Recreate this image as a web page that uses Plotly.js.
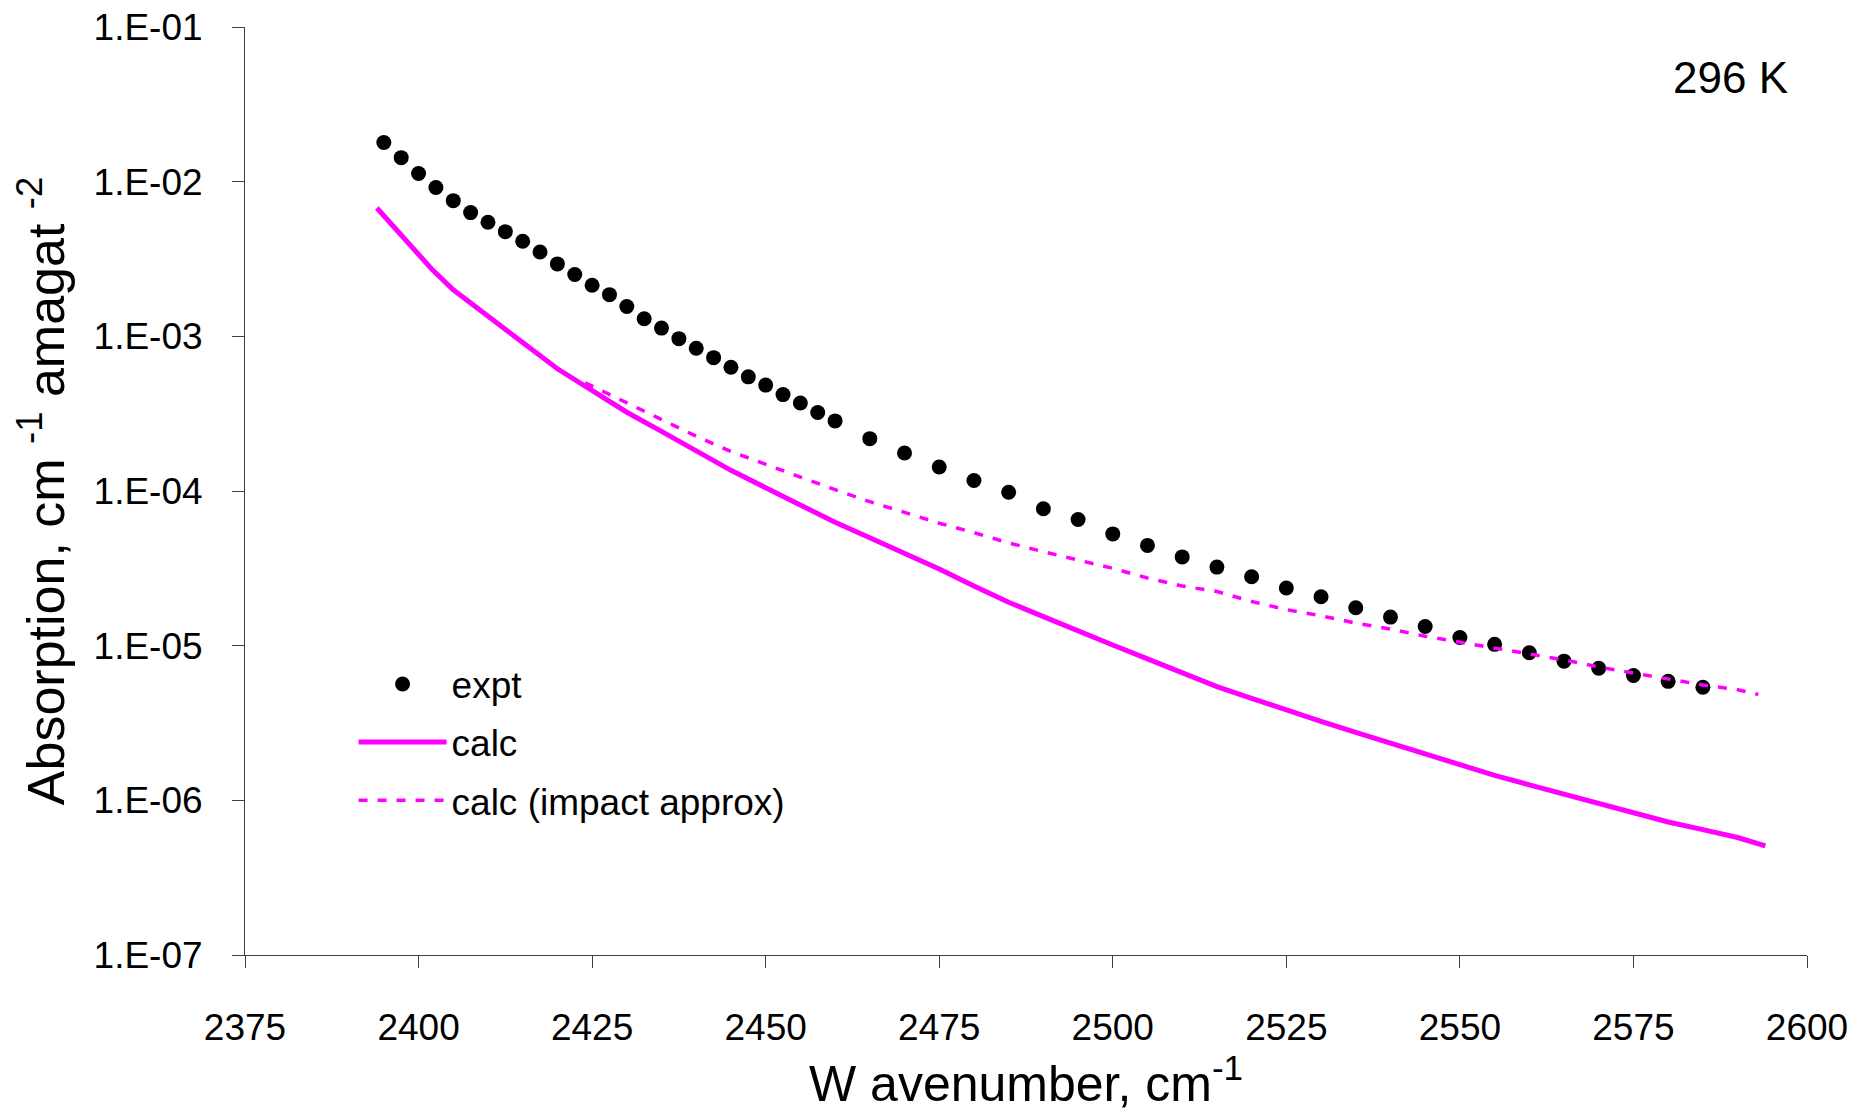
<!DOCTYPE html>
<html>
<head>
<meta charset="utf-8">
<script src="https://cdn.plot.ly/plotly-3.0.1.min.js"></script>
<style>html,body{margin:0;padding:0;background:#fff;}#chart{width:1865px;height:1120px;}</style>
</head>
<body>
<div id="chart"></div>
<script>
// Experimental data
const exptX = [2395,2397.5,2400,2402.5,2405,2407.5,2410,2412.5,2415,2417.5,2420,2422.5,2425,2427.5,2430,2432.5,2435,2437.5,2440,2442.5,2445,2447.5,2450,2452.5,2455,2457.5,2460,
  2465,2470,2475,2480,2485,2490,2495,2500,2505,2510,2515,2520,2525,2530,2535,2540,2545,2550,2555,2560,2565,2570,2575,2580,2585];
const exptY = [1.79e-2,1.43e-2,1.13e-2,9.16e-3,7.54e-3,6.31e-3,5.47e-3,4.75e-3,4.12e-3,3.51e-3,2.94e-3,2.51e-3,2.14e-3,1.86e-3,1.56e-3,1.30e-3,1.13e-3,9.66e-4,8.38e-4,7.28e-4,6.31e-4,5.47e-4,4.84e-4,4.20e-4,3.71e-4,3.22e-4,2.84e-4,
  2.18e-4,1.76e-4,1.43e-4,1.17e-4,9.82e-5,7.67e-5,6.54e-5,5.28e-5,4.45e-5,3.75e-5,3.22e-5,2.79e-5,2.36e-5,2.07e-5,1.76e-5,1.53e-5,1.33e-5,1.13e-5,1.02e-5,9.0e-6,7.94e-6,7.14e-6,6.42e-6,5.88e-6,5.38e-6];

// Calculated
const calcX = [2394,2396,2398,2400,2402,2405,2410,2415,2420,2425,2430,2435,2440,2445,2450,2455,2460,2465,2470,2475,2480,2485,2490,2495,2500,2505,2510,2515,2520,2525,2530,2535,2540,2545,2550,2555,2560,2565,2570,2575,2580,2585,2590,2594];
const calcY = [6.76e-3,5.37e-3,4.20e-3,3.31e-3,2.69e-3,2.00e-3,1.34e-3,9.12e-4,6.17e-4,4.42e-4,3.23e-4,2.43e-4,1.80e-4,1.36e-4,1.05e-4,8.13e-5,6.27e-5,4.98e-5,3.98e-5,3.13e-5,2.43e-5,1.91e-5,1.54e-5,1.24e-5,1.01e-5,8.22e-6,6.68e-6,5.43e-6,4.57e-6,3.83e-6,3.24e-6,2.75e-6,2.34e-6,1.97e-6,1.68e-6,1.45e-6,1.26e-6,1.10e-6,9.55e-7,8.32e-7,7.24e-7,6.46e-7,5.75e-7,5.07e-7];

// Calculated, impact approximation
const impactX = [2424,2430,2435,2440,2445,2450,2455,2460,2465,2470,2475,2480,2485,2490,2495,2500,2505,2510,2515,2520,2525,2530,2535,2540,2545,2550,2555,2560,2565,2570,2575,2580,2585,2590,2593];
const impactY = [5.01e-4,3.72e-4,2.88e-4,2.26e-4,1.80e-4,1.48e-4,1.23e-4,1.02e-4,8.53e-5,7.28e-5,6.19e-5,5.38e-5,4.62e-5,4.05e-5,3.58e-5,3.16e-5,2.74e-5,2.43e-5,2.24e-5,1.93e-5,1.71e-5,1.56e-5,1.40e-5,1.28e-5,1.15e-5,1.05e-5,9.66e-6,8.83e-6,8.09e-6,7.28e-6,6.66e-6,6.09e-6,5.57e-6,5.19e-6,4.84e-6];

const yTickVals = [1e-7,1e-6,1e-5,1e-4,1e-3,1e-2,1e-1];
const yTickText = ["1.E-07","1.E-06","1.E-05","1.E-04","1.E-03","1.E-02","1.E-01"];
const xTickVals = [2375,2400,2425,2450,2475,2500,2525,2550,2575,2600];

const FONT = "Liberation Sans, Arial, sans-serif";

const traces = [
  {x: exptX, y: exptY, name: "expt", type: "scatter", mode: "markers", legendgroup: "a",
   marker: {color: "#000000", size: 15}},
  {x: calcX, y: calcY, name: "calc", type: "scatter", mode: "lines", legendgroup: "b",
   line: {color: "#FF00FF", width: 5}},
  {x: impactX, y: impactY, name: "calc (impact approx)", type: "scatter", mode: "lines", legendgroup: "c",
   line: {color: "#FF00FF", width: 3.5, dash: "9px,10px"}}
];

const layout = {
  width: 1865, height: 1120,
  paper_bgcolor: "#ffffff", plot_bgcolor: "#ffffff",
  margin: {l: 245, r: 58, t: 27, b: 165},
  font: {family: FONT, color: "#000000", size: 36},
  showlegend: true,
  legend: {x: 0.0695, y: 0.325, xanchor: "left", yanchor: "top", bgcolor: "rgba(0,0,0,0)",
           font: {family: FONT, size: 37, color: "#000"}, itemwidth: 88, tracegroupgap: 7},
  xaxis: {
    type: "linear", range: [2375, 2600], tickvals: xTickVals, ticktext: xTickVals.map(String),
    showgrid: false, zeroline: false, showline: true, linecolor: "#404040", linewidth: 1,
    ticks: "outside", ticklen: 12, tickcolor: "#404040", tickwidth: 1, ticklabelstandoff: 28,
    tickfont: {family: FONT, size: 37, color: "#000"},
    title: {text: "W avenumber, cm<sup>-1</sup>", font: {family: FONT, size: 50, color: "#000"}, standoff: 18},
    automargin: false
  },
  yaxis: {
    type: "log", range: [-7, -1], tickvals: yTickVals, ticktext: yTickText,
    showgrid: false, zeroline: false, showline: true, linecolor: "#404040", linewidth: 1,
    ticks: "outside", ticklen: 12, tickcolor: "#404040", tickwidth: 1, ticklabelstandoff: 22,
    tickfont: {family: FONT, size: 37, color: "#000"},
    title: {text: "Absorption, cm <sup>-1</sup> amagat <sup>-2</sup>", font: {family: FONT, size: 52, color: "#000"}, standoff: 12},
    automargin: false
  },
  annotations: [
    {text: "296 K", xref: "paper", yref: "paper", x: 0.951, y: 0.946, xanchor: "center", yanchor: "middle",
     showarrow: false, font: {family: FONT, size: 44, color: "#000"}}
  ]
};

Plotly.newPlot("chart", traces, layout, {displayModeBar: false, staticPlot: true});
</script>
</body>
</html>
